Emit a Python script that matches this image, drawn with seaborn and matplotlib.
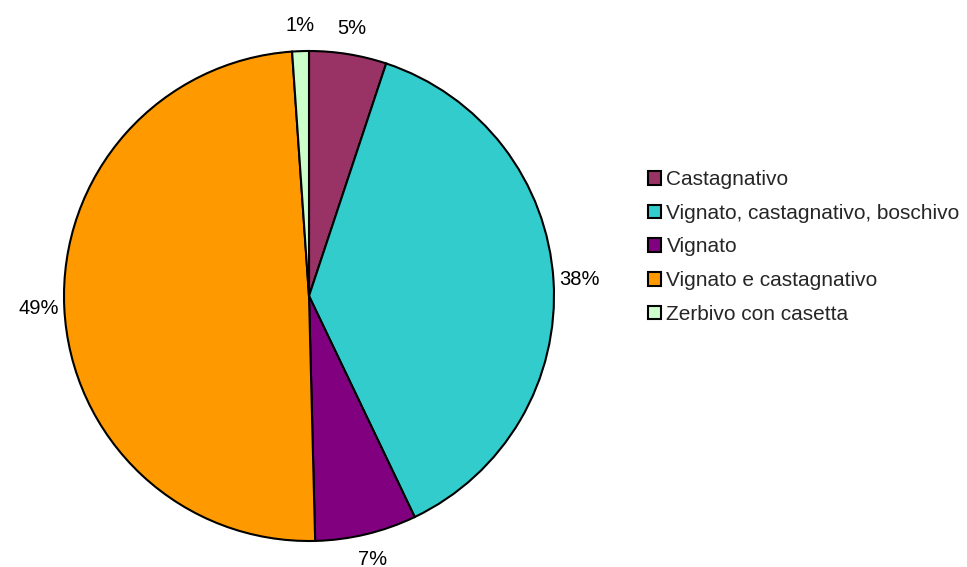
import numpy as np
import matplotlib.pyplot as plt
import seaborn as sns
from matplotlib.patches import Patch

sns.set_theme(style="white")
plt.rcParams['font.family'] = ['Liberation Sans', 'DejaVu Sans']

# Data (percent of total)
categories = ["Castagnativo", "Vignato, castagnativo, boschivo", "Vignato",
              "Vignato e castagnativo", "Zerbivo con casetta"]
shares = [5.1, 37.8, 6.7, 49.3, 1.1]
colors = ["#993366", "#33CCCC", "#800080", "#FF9900", "#CCFFCC"]

fig = plt.figure(figsize=(9.67, 5.67), dpi=100)
# square axes so the pie is centred near (309, 296) px with a radius of ~245 px
ax = fig.add_axes([15 / 967, -23 / 567, 588 / 967, 588 / 567])

wedges, texts, autotexts = ax.pie(
    shares, colors=colors, startangle=90, counterclock=False,
    autopct="%1.0f%%", pctdistance=1.105,
    wedgeprops=dict(edgecolor="black", linewidth=1.5),
    textprops=dict(fontsize=14.5, color="black"),
)
ax.set_xlim(-1.2, 1.2)
ax.set_ylim(-1.2, 1.2)
ax.set_aspect("equal")
ax.axis("off")

handles = [Patch(facecolor=c, edgecolor="black", linewidth=1.5) for c in colors]
fig.legend(handles, categories, loc="upper left", bbox_to_anchor=(640 / 967, 1 - 162 / 567),
           frameon=False, fontsize=15, handlelength=0.62, handleheight=0.62,
           handletextpad=0.25, labelspacing=0.7, borderaxespad=0)

plt.savefig("out.png", dpi=100)
